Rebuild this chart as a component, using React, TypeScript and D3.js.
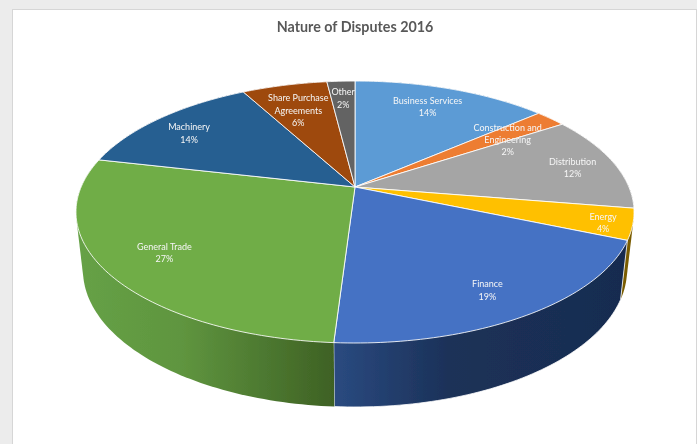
import React from "react";
import * as d3 from "d3";

const categories = [
  ["Business Services"],
  ["Construction and", "Engineering"],
  ["Distribution"],
  ["Energy"],
  ["Finance"],
  ["General Trade"],
  ["Machinery"],
  ["Share Purchase", "Agreements"],
  ["Other"],
];
const shares = [13.6, 2.15, 11.85, 3.8, 19.6, 27.6, 13.5, 5.95, 1.95];
const percentLabels = ["14%", "2%", "12%", "4%", "19%", "27%", "14%", "6%", "2%"];
const topColors = ["#5b9bd5", "#ed7d31", "#a5a5a5", "#ffc000", "#4472c4", "#70ad47", "#255e91", "#9e480e", "#636363"];
const wallColors = ["#3a6a96", "#a3561f", "#707070", "#7a5c00", "url(#wallBlue)", "url(#wallGreen)", "#193f63", "#6b3009", "#444444"];
const labelRadius = [0.79, 0.726, 0.834, 0.9, 0.82, 0.79, 0.808, 0.73, 0.817];
const labelNudge = [-2, 3, 1, 1, 1, 0, -2, -1, 0];
const title = "Nature of Disputes 2016";

const W = 698;
const H = 444;
// perspective of the tilted disc
const cx = 355;
const apexY = 187;
const scaleX = 273.9;
const scaleY = 126.2;
const k = -0.191;
// top-rim ellipse → bottom-rim ellipse
const topCy = 212;
const botCy = 270;
const sx = 272 / 279;
const sy = 137 / 131;

type Pt = [number, number];
const project = (theta: number, r = 1): Pt => {
  const X = r * Math.sin(theta);
  const Y = -r * Math.cos(theta);
  const d = 1 + k * Y;
  return [cx + (scaleX * X) / d, apexY + (scaleY * Y) / d];
};
const lower = ([x, y]: Pt): Pt => [cx + (x - cx) * sx, botCy + (y - topCy) * sy];

const arcs = d3.pie<number>().value((d) => d).sort(null)(shares);
const line = d3.line<Pt>().x((d) => d[0]).y((d) => d[1]);
const rimPoints = (a0: number, a1: number): Pt[] => {
  const n = Math.max(2, Math.ceil((a1 - a0) / 0.02));
  return d3.range(n + 1).map((i) => project(a0 + ((a1 - a0) * i) / n));
};

export default function App() {
  return (
    <svg
      width={W}
      height={H}
      viewBox={`0 0 ${W} ${H}`}
      style={{ position: "fixed", left: 0, top: 0, display: "block" }}
    >
      <defs>
        <linearGradient id="wallGreen" gradientUnits="userSpaceOnUse" x1={80} x2={334} y1={0} y2={0}>
          <stop offset="0" stopColor="#66a146" />
          <stop offset="0.4" stopColor="#5f953f" />
          <stop offset="1" stopColor="#3e6124" />
        </linearGradient>
        <linearGradient id="wallBlue" gradientUnits="userSpaceOnUse" x1={334} x2={625} y1={0} y2={0}>
          <stop offset="0" stopColor="#2a4a80" />
          <stop offset="0.4" stopColor="#1b3158" />
          <stop offset="1" stopColor="#182c50" />
        </linearGradient>
        <filter id="soft" x="-2%" y="-2%" width="104%" height="104%">
          <feGaussianBlur stdDeviation="0.35" />
        </filter>
        <filter id="softer" x="-2%" y="-2%" width="104%" height="104%">
          <feGaussianBlur stdDeviation="0.45" />
        </filter>
      </defs>
      <rect x={0} y={0} width={W} height={H} fill="#ececec" />
      <rect x={12.5} y={9.5} width={684} height={H} fill="#ffffff" stroke="#d6d6d6" strokeWidth={1} />
      <rect x={697} y={0} width={1} height={H} fill="#ffffff" />

      <g filter="url(#soft)">
        {arcs.map((a, i) => {
          const top = rimPoints(a.startAngle, a.endAngle);
          const hull = d3.polygonHull([...top, ...top.map(lower)]) as Pt[];
          return (
            <path
              key={`wall-${i}`}
              d={line(hull)! + "Z"}
              fill={wallColors[i]}
              stroke={i === 4 ? "#ffffff" : "none"}
              strokeWidth={0.8}
            />
          );
        })}
        {arcs.map((a, i) => {
          const top = rimPoints(a.startAngle, a.endAngle);
          return (
            <path
              key={`top-${i}`}
              d={line([[cx, apexY], ...top])! + "Z"}
              fill={topColors[i]}
              stroke="#ffffff"
              strokeOpacity={0.85}
              strokeWidth={1}
              strokeLinejoin="round"
            />
          );
        })}
      </g>
      <g filter="url(#softer)">
        <text
          x={355}
          y={28}
          textAnchor="middle"
          dominantBaseline="middle"
          fontFamily="Lato, 'Open Sans', sans-serif"
          fontWeight={700}
          fontSize={14.3}
          fill="#595959"
        >
          {title}
        </text>
        {arcs.map((a, i) => {
          const mid = (a.startAngle + a.endAngle) / 2 + (labelNudge[i] * Math.PI) / 180;
          const [x, y] = project(mid, labelRadius[i]);
          const lines = [...categories[i], percentLabels[i]];
          const step = 12.3;
          return (
            <text
              key={`label-${i}`}
              textAnchor="middle"
              fontFamily="Lato, 'Open Sans', sans-serif"
              fontSize={9}
              fill="#f6f6f6"
            >
              {lines.map((t, j) => (
                <tspan
                  key={j}
                  x={x}
                  y={y + 1.4 + (j - (lines.length - 1) / 2) * step}
                  dominantBaseline="middle"
                >
                  {t}
                </tspan>
              ))}
            </text>
          );
        })}
      </g>
    </svg>
  );
}
